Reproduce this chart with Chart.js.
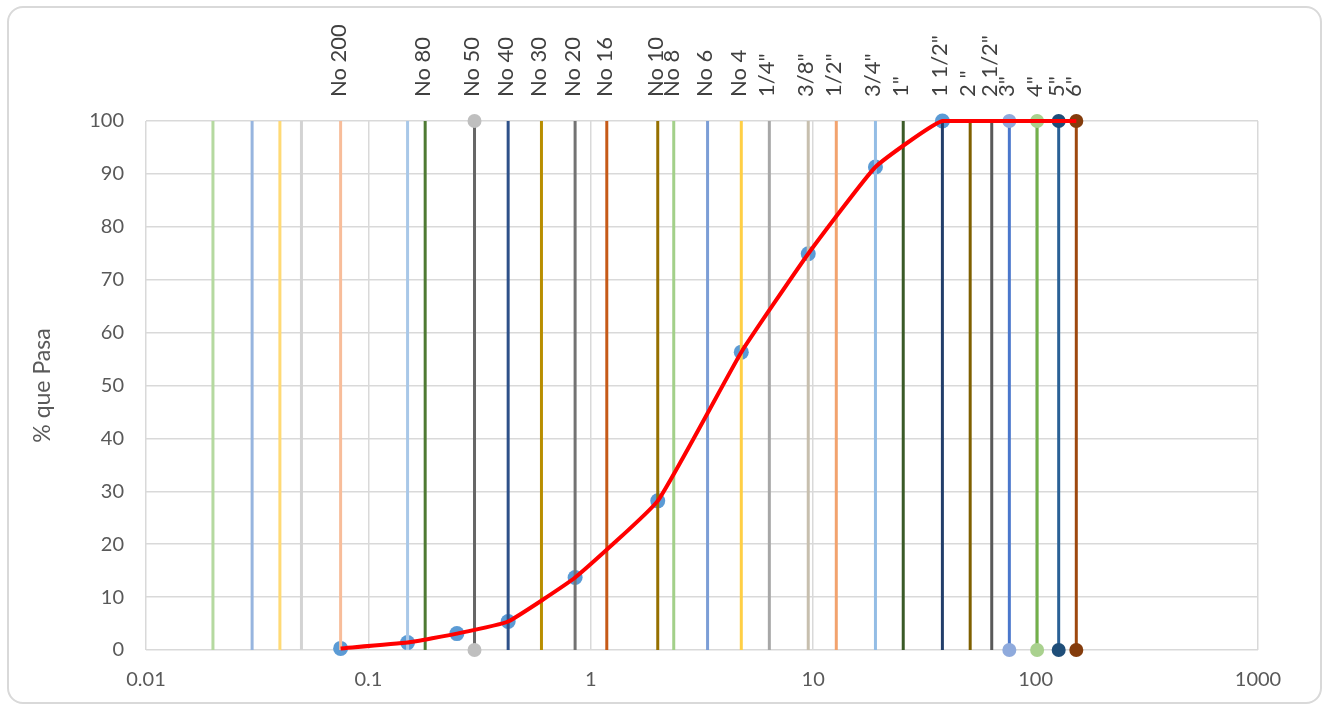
<!DOCTYPE html>
<html>
<head>
<meta charset="utf-8">
<script src="https://cdn.jsdelivr.net/npm/chart.js@4.4.1/dist/chart.umd.min.js"></script>
<style>
  html, body { margin: 0; padding: 0; background: #fff; }
  #wrap { position: relative; width: 1326px; height: 708px; }
  #card { position: absolute; left: 7px; top: 6px; width: 1315px; height: 698px; border: 2px solid #d9d9d9; border-radius: 16px; box-sizing: border-box; }
  canvas { position: absolute; left: 0; top: 0; }
</style>
</head>
<body>
<div id="wrap">
  <div id="card"></div>
  <canvas id="myChart" width="1326" height="708"></canvas>
</div>
<script>
const ctx = document.getElementById('myChart');

// tamices (mm) y sus etiquetas
const sieveSizes  = [0.02, 0.03, 0.04, 0.05, 0.075, 0.15, 0.18, 0.3, 0.425, 0.6, 0.85, 1.18, 2.0, 2.36, 3.35, 4.75, 6.35, 9.5, 12.7, 19.05, 25.4, 38.1, 50.8, 63.5, 76.2, 101.6, 127, 152.4];
const sieveLabels = ['', '', '', '', 'No 200', '', 'No 80', 'No 50', 'No 40', 'No 30', 'No 20', 'No 16', 'No 10', 'No 8', 'No 6', 'No 4', '1/4"', '3/8"', '1/2"', '3/4"', '1"', '1 1/2"', '2 "', '2 1/2"', '3"', '4"', '5"', '6"'];
const sieveColors = ['#b5d9a0', '#97b5df', '#ffda75', '#d3d3d3', '#f8bd9a', '#a9c8e8', '#4e7a33', '#666666', '#2e5189', '#b88e00', '#737373', '#c65a18', '#957000', '#a3d08a', '#7c9ed6', '#ffcf45', '#a7a7a7', '#c7bfae', '#f2a36e', '#94bde5', '#3a5a27', '#223e6a', '#7f6000', '#595959', '#4a77cc', '#72b04a', '#2a6196', '#9e480e'];
const sieveMarkers = [null, null, null, null, null, null, null, '#bfbfbf', null, null, null, null, null, null, null, null, null, null, null, null, null, null, null, null, '#8faadc', '#a9d18e', '#1f4e79', '#843c0c'];

// curva granulometrica
const curveSizes   = [0.075, 0.15, 0.25, 0.425, 0.85, 2.0, 4.75, 9.5, 19.05, 38.1, 152.4];
const curvePassing = [0.3, 1.4, 3.1, 5.4, 13.7, 28.2, 56.3, 74.9, 91.3, 100, 100];

const xTicks = [0.01, 0.1, 1, 10, 100, 1000];
const xTickLabels = ['0.01', '0.1', '1', '10', '100', '1000'];
const yTitle = '% que Pasa';

const labeledSizes = sieveSizes.filter((s, i) => sieveLabels[i] !== '');
const labeledNames = sieveLabels.filter(l => l !== '');

const curvePts = curveSizes.map((x, i) => ({ x: x, y: curvePassing[i] }));

let datasets = [];
datasets.push({
  label: 'curva',
  data: curvePts,
  showLine: true,
  borderColor: '#ff0000',
  borderWidth: 4,
  pointRadius: 0,
  tension: 0.12,
  clip: false,
  order: 0
});
for (let i = 0; i < sieveSizes.length; i++) {
  datasets.push({
    label: sieveLabels[i],
    data: [{ x: sieveSizes[i], y: 0 }, { x: sieveSizes[i], y: 100 }],
    showLine: true,
    borderColor: sieveColors[i],
    borderWidth: 3,
    pointRadius: sieveMarkers[i] ? 7 : 0,
    pointBackgroundColor: sieveMarkers[i],
    pointBorderWidth: 0,
    clip: false,
    order: 1
  });
}
datasets.push({
  label: 'puntos',
  data: curvePts,
  showLine: false,
  pointRadius: curveSizes.map((s, i) => i < curveSizes.length - 1 ? 7.5 : 0),
  pointBackgroundColor: '#5b9bd5',
  pointBorderWidth: 0,
  clip: false,
  order: 2
});

let cc = new Chart(ctx, {
  type: 'scatter',
  data: { datasets: datasets },
  options: {
    responsive: false,
    animation: false,
    devicePixelRatio: 1,
    layout: { padding: { left: 20, right: 68, top: 10, bottom: 10 } },
    plugins: { legend: { display: false }, tooltip: { enabled: false } },
    scales: {
      x: {
        type: 'logarithmic',
        position: 'bottom',
        min: 0.01,
        max: 1000,
        afterBuildTicks: (s) => { s.ticks = xTicks.map(v => ({ value: v })); },
        afterFit: (s) => { s.height = 48; },
        ticks: {
          callback: (v, i) => xTickLabels[i],
          autoSkip: false,
          maxRotation: 0,
          padding: 18,
          color: '#595959',
          font: { family: 'Lato', size: 20 }
        },
        grid: { color: '#d9d9d9', lineWidth: 1.5, drawTicks: false },
        border: { display: false }
      },
      xTop: {
        type: 'logarithmic',
        position: 'top',
        min: 0.01,
        max: 1000,
        afterBuildTicks: (s) => { s.ticks = labeledSizes.map(v => ({ value: v })); },
        afterFit: (s) => { s.height = 111; },
        ticks: {
          callback: (v, i) => labeledNames[i],
          autoSkip: false,
          minRotation: 90,
          maxRotation: 90,
          padding: 24,
          color: '#404040',
          font: { family: 'Lato', size: 22, lineHeight: 0.1 }
        },
        grid: { display: false, drawTicks: false },
        border: { display: false }
      },
      y: {
        min: 0,
        max: 100,
        afterFit: (s) => { s.width = 126; },
        ticks: { stepSize: 10, padding: 22, color: '#595959', font: { family: 'Lato', size: 20 } },
        grid: { color: '#d9d9d9', lineWidth: 1.5, drawTicks: false },
        border: { display: false },
        title: {
          display: true,
          text: yTitle,
          color: '#595959',
          font: { family: 'Lato', size: 23, weight: 'normal' },
          padding: { top: 9, bottom: 0 }
        }
      }
    }
  }
});
</script>
</body>
</html>
